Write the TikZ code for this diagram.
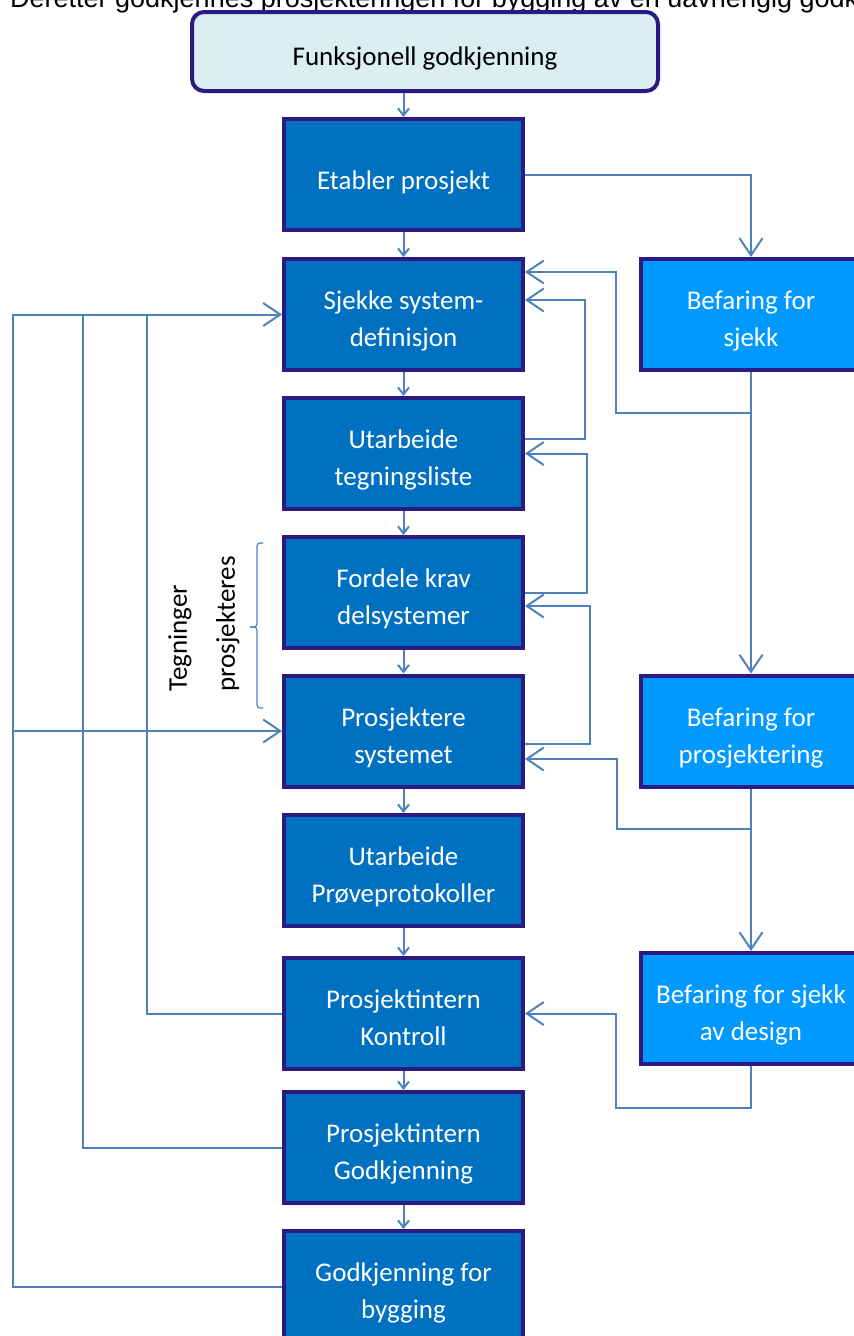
\documentclass[tikz,border=0pt]{standalone}
\usepackage{fontspec}
\setmainfont{Carlito}
\newfontfamily\captionfont{Liberation Sans}
\usetikzlibrary{arrows.meta}

\definecolor{boxblue}{HTML}{0070C0}
\definecolor{sideblue}{HTML}{0099FF}
\definecolor{framepurple}{HTML}{2A1A82}
\definecolor{paleblue}{HTML}{DAEEF3}
\definecolor{linkblue}{HTML}{4F81BD}

\begin{document}
\begin{tikzpicture}[x=1pt, y=-1pt,
    mainbox/.style={draw=framepurple, line width=4pt, fill=boxblue, text=white,
        minimum width=239pt, minimum height=111pt, align=center,
        text height=64.5pt, text depth=0pt,
        font=\fontsize{27}{37}\selectfont},
    oneline/.style={text height=30pt},
    sidebox/.style={mainbox, fill=sideblue, minimum width=220pt},
    link/.style={draw=linkblue, line width=2pt},
    longarr/.style={link, -{Straight Barb[length=17pt, width=23pt]}},
    shortarr/.style={link, -{Straight Barb[length=7pt, width=11pt]}}]
    \useasboundingbox (0,0) rectangle (854,1336);

    % Nodes
    \node[anchor=base west, inner sep=0, font=\captionfont\fontsize{27}{32}\selectfont]
        (caption) at (10,7) {Deretter godkjennes prosjekteringen for bygging av en uavhengig godkj};
    \node[draw=framepurple, line width=4pt, fill=paleblue, rounded corners=12pt,
        minimum width=466pt, minimum height=79pt, text height=28pt, text depth=0pt,
        font=\fontsize{27}{37}\selectfont]
        (funk) at (425,51.5) {Funksjonell godkjenning};
    \node[mainbox, oneline] (etab) at (403.5,174.5) {Etabler prosjekt};
    \node[mainbox] (sjekk) at (403.5,314.5) {Sjekke system-\\definisjon};
    \node[mainbox] (utarb) at (403.5,453.5) {Utarbeide\\tegningsliste};
    \node[mainbox] (ford) at (403.5,592.5) {Fordele krav\\delsystemer};
    \node[mainbox] (prosj) at (403.5,731) {Prosjektere\\systemet};
    \node[mainbox] (prove) at (403.5,870.5) {Utarbeide\\Prøveprotokoller};
    \node[mainbox] (kontr) at (403.5,1013.5) {Prosjektintern\\Kontroll};
    \node[mainbox] (godk) at (403.5,1147.5) {Prosjektintern\\Godkjenning};
    \node[mainbox] (bygg) at (403.5,1286.5) {Godkjenning for\\bygging};

    \node[sidebox] (befsjekk) at (751,314.5) {Befaring for\\sjekk};
    \node[sidebox] (befprosj) at (751,731) {Befaring for\\prosjektering};
    \node[sidebox] (befdesign) at (751,1008.5) {Befaring for sjekk\\av design};

    % Arrows
    \draw[shortarr] (etab |- funk.south) -- (etab.north);
    \draw[shortarr] (etab) -- (sjekk);
    \draw[shortarr] (sjekk) -- (utarb);
    \draw[shortarr] (utarb) -- (ford);
    \draw[shortarr] (ford) -- (prosj);
    \draw[shortarr] (prosj) -- (prove);
    \draw[shortarr] (prove) -- (kontr);
    \draw[shortarr] (kontr) -- (godk);
    \draw[shortarr] (godk) -- (bygg);

    \draw[longarr] (etab.east) -| (befsjekk.north);
    \draw[longarr] (befsjekk) -- (befprosj);
    \draw[longarr] (befprosj) -- (befdesign);

    \draw[longarr] (befsjekk.south |- 0,413) -- (616,413) |- (sjekk.east |- 0,272);
    \draw[longarr] (utarb.east |- 0,439) -- (585,439) |- (sjekk.east |- 0,300);
    \draw[longarr] (ford.east) -- (587,592.5) |- (utarb.east);
    \draw[longarr] (prosj.east |- 0,744) -- (590,744) |- (ford.east |- 0,606);
    \draw[longarr] (befprosj.south |- 0,829) -- (617,829) |- (prosj.east |- 0,759);
    \draw[longarr] (befdesign.south) |- (616,1108) |- (kontr.east);

    \draw[link] (kontr.west) -| (147,314.5);
    \draw[link] (godk.west) -| (83,314.5);
    \draw[longarr] (bygg.west) -| (13,314.5) -- (sjekk.west);
    \draw[longarr] (13,731) -- (prosj.west);

    % Labels
    \draw[linkblue, line width=1.2pt, rounded corners=3pt]
        (263,543) -- (257,543) -- (257,627) -- (250,627);
    \draw[linkblue, line width=1.2pt, rounded corners=3pt]
        (250,627) -- (257,627) -- (257,708) -- (263,708);
    \node[rotate=90, align=left, font=\fontsize{27}{48}\selectfont] (tegn) at (204,624)
        {Tegninger\\prosjekteres};
\end{tikzpicture}
\end{document}
